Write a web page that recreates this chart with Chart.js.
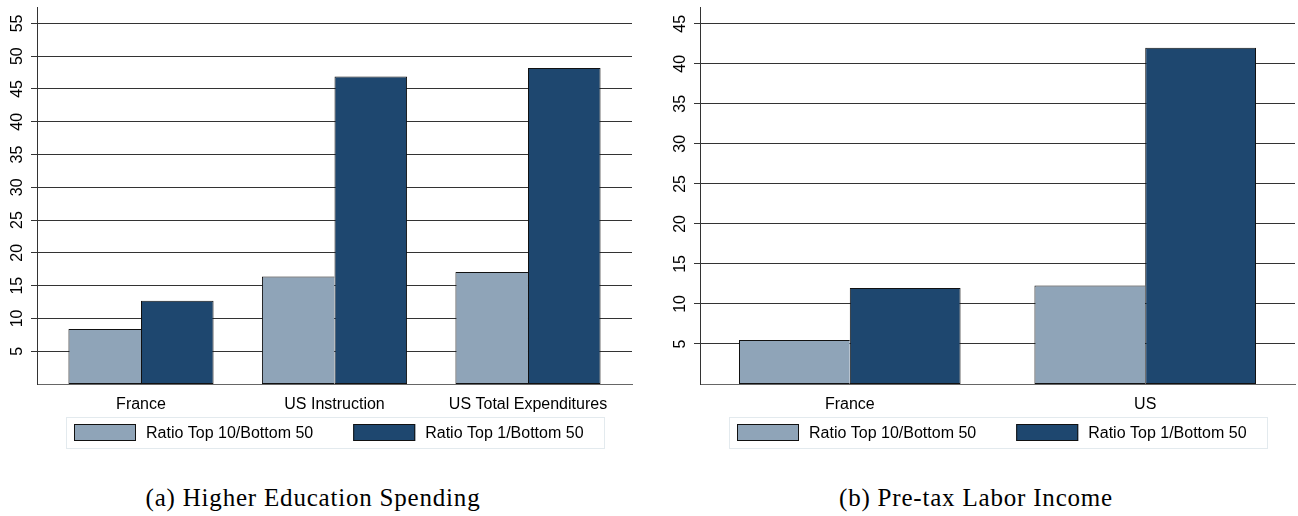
<!DOCTYPE html>
<html>
<head>
<meta charset="utf-8">
<script src="https://cdn.jsdelivr.net/npm/chart.js@4"></script>
<style>
  html, body { margin: 0; padding: 0; background: #fff; }
  #page { position: relative; width: 1298px; height: 516px; overflow: hidden; }
  canvas { position: absolute; top: 0; }
  #chartA { left: 0; }
  #chartB { left: 650px; }
  .caption {
    position: absolute; top: 483px;
    font-family: 'Liberation Serif', 'Times New Roman', serif;
    font-size: 25px; line-height: 30px; letter-spacing: 0.8px;
    white-space: nowrap; transform: translateX(-50%); color: #000;
  }
</style>
</head>
<body>
<div id="page">
  <canvas id="chartA" width="650" height="460"></canvas>
  <canvas id="chartB" width="648" height="460"></canvas>
  <div class="caption" style="left:313px">(a) Higher Education Spending</div>
  <div class="caption" style="left:976px">(b) Pre-tax Labor Income</div>
</div>
<script>
// series names
const seriesLabels = ['Ratio Top 10/Bottom 50', 'Ratio Top 1/Bottom 50'];
const seriesColors = ['#8fa4b8', '#1e476f'];

// panel (a) higher education spending
const categoriesA = ['France', 'US Instruction', 'US Total Expenditures'];
const top10A = [8.4, 16.4, 17.1];
const top1A = [12.7, 46.9, 48.2];
const yTicksA = [5, 10, 15, 20, 25, 30, 35, 40, 45, 50, 55];

// panel (b) pre-tax labor income
const categoriesB = ['France', 'US'];
const top10B = [5.5, 12.3];
const top1B = [12.0, 42.0];
const yTicksB = [5, 10, 15, 20, 25, 30, 35, 40, 45];

Chart.defaults.font.family = "'Liberation Sans', Arial, sans-serif";
Chart.defaults.font.size = 16;
Chart.defaults.color = '#000';

// stata-like legend: framed box centred under the plot
const boxLegend = {
    id: 'boxLegend',
    afterDraw(chart) {
        const { ctx, chartArea } = chart;
        const sets = chart.data.datasets;
        const sw = 62, sh = 17, padL = 8, textGap = 10, itemGap = 40, padR = 20, h = 31;
        ctx.save();
        ctx.font = "16px 'Liberation Sans', Arial, sans-serif";
        const widths = sets.map(d => ctx.measureText(d.label).width);
        const total = Math.round(padL + padR + sets.length * (sw + textGap)
            + widths.reduce((a, b) => a + b, 0) + itemGap * (sets.length - 1));
        const cx = (chartArea.left + chartArea.right) / 2;
        const x0 = Math.round(cx - total / 2);
        const y0 = Math.round(chartArea.bottom + 33);
        ctx.strokeStyle = '#e3eaee';
        ctx.lineWidth = 1;
        ctx.strokeRect(x0 + 0.5, y0 + 0.5, total, h);
        let x = x0 + padL;
        sets.forEach((d, i) => {
            ctx.fillStyle = d.backgroundColor;
            ctx.fillRect(x, y0 + 7, sw, sh);
            ctx.strokeStyle = '#111';
            ctx.strokeRect(x + 0.5, y0 + 7.5, sw - 1, sh - 1);
            ctx.fillStyle = '#000';
            ctx.textAlign = 'left';
            ctx.textBaseline = 'middle';
            ctx.fillText(d.label, x + sw + textGap, y0 + 7 + sh / 2 + 1);
            x += sw + textGap + widths[i] + itemGap;
        });
        ctx.restore();
    }
};

function makeChart(canvasId, categories, top10, top1, yTicks, yMax, xEdge, pad) {
    const ctx = document.getElementById(canvasId).getContext('2d');
    return new Chart(ctx, {
        type: 'bar',
        data: {
            datasets: [{
                label: seriesLabels[0],
                data: top10.map((v, i) => ({ x: i, y: v })),
                backgroundColor: seriesColors[0],
                borderColor: '#111',
                borderWidth: { top: 1, left: 1, bottom: 1, right: 0 },
                borderSkipped: false,
                categoryPercentage: 0.75,
                barPercentage: 1,
            }, {
                label: seriesLabels[1],
                data: top1.map((v, i) => ({ x: i, y: v })),
                backgroundColor: seriesColors[1],
                borderColor: '#111',
                borderWidth: 1,
                borderSkipped: false,
                categoryPercentage: 0.75,
                barPercentage: 1,
            }]
        },
        options: {
            responsive: false,
            devicePixelRatio: 1,
            animation: false,
            events: [],
            layout: { padding: pad },
            plugins: { legend: { display: false }, tooltip: { enabled: false } },
            scales: {
                x: {
                    type: 'linear',
                    offset: false,
                    min: -xEdge,
                    max: categories.length - 1 + xEdge,
                    afterBuildTicks: s => { s.ticks = categories.map((c, i) => ({ value: i })); },
                    afterFit: s => { s.height = 76; s.paddingLeft = 0; s.paddingRight = 0; },
                    ticks: { callback: v => categories[v], padding: 3, maxRotation: 0, autoSkip: false },
                    grid: { display: false, offset: false },
                    border: { display: true, color: '#666', width: 1 },
                },
                y: {
                    min: 0,
                    max: yMax,
                    afterBuildTicks: s => { s.ticks = yTicks.map(v => ({ value: v })); },
                    afterFit: s => { s.width = 37; s.paddingTop = 0; s.paddingBottom = 0; },
                    ticks: { minRotation: 90, maxRotation: 90, crossAlign: 'center', padding: 5 },
                    grid: { color: '#333', lineWidth: 1, tickLength: 6 },
                    border: { display: true, color: '#333', width: 1 },
                }
            }
        },
        plugins: [boxLegend]
    });
}

makeChart('chartA', categoriesA, top10A, top1A, yTicksA, 57.5, 0.5375, { left: 0, right: 18, top: 7, bottom: 0 });
makeChart('chartB', categoriesB, top10B, top1B, yTicksB, 47.1, 0.507, { left: 13, right: 3, top: 7, bottom: 0 });
</script>
</body>
</html>
